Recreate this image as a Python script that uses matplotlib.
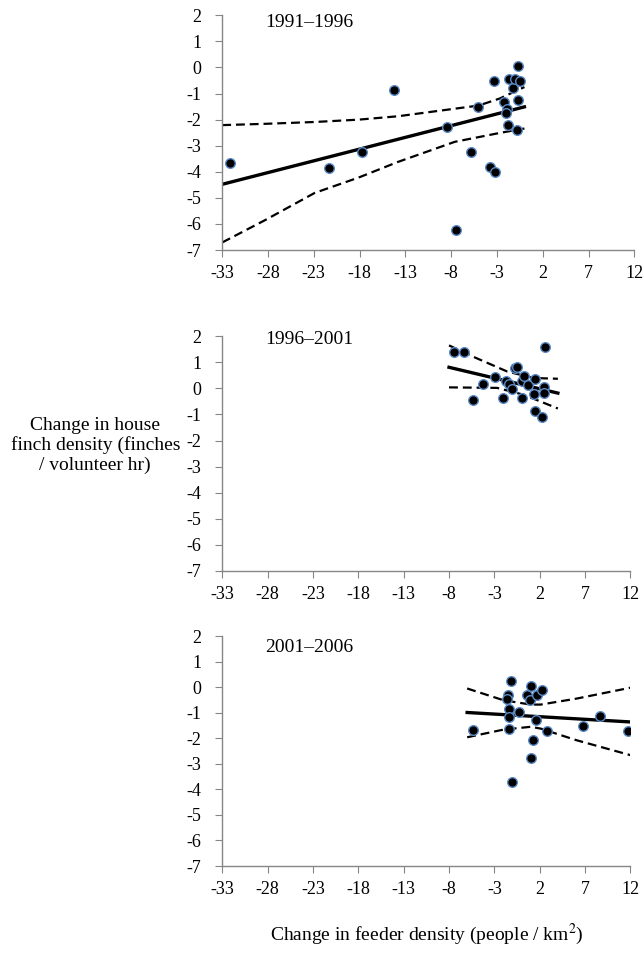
import matplotlib
matplotlib.use("Agg")
import matplotlib.pyplot as plt

plt.rcParams['font.family'] = ['Liberation Serif', 'DejaVu Serif']
plt.rcParams['mathtext.fontset'] = 'stix'

# 1991-1996
x1 = [-32.2, -21.3, -17.7, -14.2, -8.45, -7.5, -5.87, -5.1, -3.8, -3.22, -3.3,
      -2.24, -1.95, -2.0, -1.8, -1.7, -1.3, -1.0, -0.67, -0.45, -0.7, -0.85]
y1 = [-3.68, -3.84, -3.24, -0.86, -2.29, -6.24, -3.24, -1.51, -3.81, -4.02, -0.53,
      -1.32, -1.58, -1.73, -2.19, -0.45, -0.78, -0.43, 0.06, -0.52, -1.23, -2.41]
fit1_x = [-33, 0]
fit1_y = [-4.48, -1.51]
ci1_x = [-33, -28.3, -22.9, -18.1, -13.8, -7.6, -5, -2.7, 0]
ci1_hi = [-2.21, -2.16, -2.09, -2.0, -1.87, -1.58, -1.46, -1.19, -0.75]
ci1_lo = [-6.71, -5.85, -4.81, -4.22, -3.62, -2.85, -2.67, -2.51, -2.34]

# 1996-2001
x2 = [-7.41, -6.35, -5.39, -4.21, -2.96, -2.0, -1.71, -1.42, -1.01, -0.68, -0.46,
      0.05, 0.01, 0.27, 0.71, 1.45, 1.38, 1.45, 2.29, 2.48, 2.51, 2.63]
y2 = [1.38, 1.41, -0.46, 0.17, 0.42, -0.35, 0.28, 0.18, -0.01, 0.78, 0.81,
      0.29, -0.38, 0.49, 0.14, 0.37, -0.23, -0.85, -1.08, 0.04, -0.19, 1.58]
fit2_x = [-8, 4]
fit2_y = [0.81, -0.18]
ci2_hi_x = [-8, -5.3, -1.6, 1.3, 4]
ci2_hi = [1.65, 1.21, 0.65, 0.40, 0.37]
ci2_lo_x = [-8, -2.7, 0.2, 4]
ci2_lo = [0.04, 0.02, -0.24, -0.77]

# 2001-2006
x3 = [-5.33, -1.13, -1.53, -1.61, -1.42, -1.39, -1.39, -1.05, -0.32, 0.6, 0.97,
      1.08, 1.67, 2.3, 1.64, 1.27, 1.08, 2.78, 6.82, 8.66, 11.75]
y3 = [-1.68, 0.26, -0.32, -0.47, -0.86, -1.16, -1.62, -3.70, -0.99, -0.29, -0.5,
      0.06, -0.32, -0.12, -1.29, -2.08, -2.79, -1.72, -1.5, -1.14, -1.70]
fit3_x = [-6, 12]
fit3_y = [-0.99, -1.36]
ci3_x = [-6, -2, 1, 2.1, 6, 12]
ci3_hi = [-0.05, -0.51, -0.68, -0.68, -0.45, -0.02]
ci3_lo = [-1.96, -1.66, -1.55, -1.62, -2.07, -2.66]

periods = ["1991\u20131996", "1996\u20132001", "2001\u20132006"]
xticks = [-33, -28, -23, -18, -13, -8, -3, 2, 7, 12]
yticks = [2, 1, 0, -1, -2, -3, -4, -5, -6, -7]

panels = [
    (x1, y1, fit1_x, fit1_y, ci1_x, ci1_hi, ci1_x, ci1_lo),
    (x2, y2, fit2_x, fit2_y, ci2_hi_x, ci2_hi, ci2_lo_x, ci2_lo),
    (x3, y3, fit3_x, fit3_y, ci3_x, ci3_hi, ci3_x, ci3_lo),
]
boxes = [[0.345, 0.739, 0.640, 0.245],
         [0.345, 0.404, 0.634, 0.245],
         [0.345, 0.096, 0.634, 0.240]]
label_y = [1.73, 1.87, 1.57]

fig = plt.figure(figsize=(6.44, 9.58), dpi=100)
gray = "#868686"

for i, (px, py, fx, fy, hx, hy, lx, ly) in enumerate(panels):
    ax = fig.add_axes(boxes[i])
    ax.plot(hx, hy, color="black", lw=1.6, dashes=(4, 2.2))
    ax.plot(lx, ly, color="black", lw=1.6, dashes=(4, 2.2))
    ax.plot(fx, fy, color="black", lw=2.4)
    ax.scatter(px, py, s=48, color="black", edgecolors="#5a8ac6", linewidths=1.0, zorder=3)
    ax.set_xlim(-33, 12)
    ax.set_ylim(-7, 2)
    ax.set_xticks(xticks)
    ax.set_yticks(yticks)
    ax.set_xticklabels([str(t) for t in xticks])
    ax.set_yticklabels([str(t) for t in yticks])
    for s in ["top", "right"]:
        ax.spines[s].set_visible(False)
    for s in ["left", "bottom"]:
        ax.spines[s].set_color(gray)
        ax.spines[s].set_linewidth(1.0)
    ax.tick_params(direction="out", length=5, color=gray, labelsize=13, pad=6)
    ax.tick_params(axis="y", pad=10)
    ax.text(-28.3, label_y[i], periods[i], fontsize=14, ha="left", va="center")

fig.text(0.148, 0.535, "Change in house\nfinch density (finches\n/ volunteer hr)",
         ha="center", va="center", fontsize=14, linespacing=1.15)
fig.text(0.662, 0.012, "Change in feeder density (people / km$^2$)",
         ha="center", va="bottom", fontsize=14)

fig.savefig("out.png", dpi=100)
